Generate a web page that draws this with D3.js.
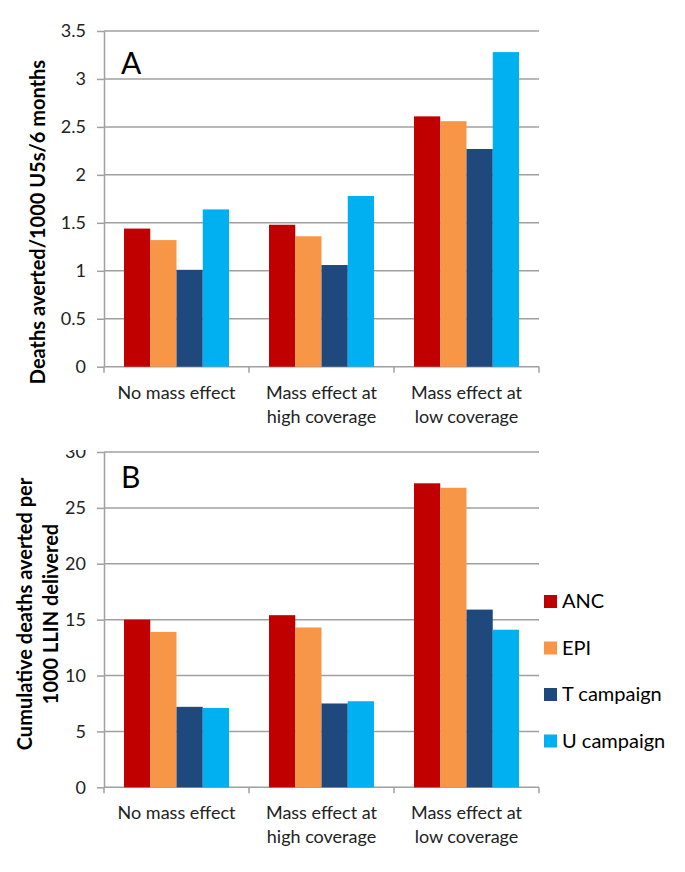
<!DOCTYPE html>
<html>
<head>
<meta charset="utf-8">
<script src="https://cdn.jsdelivr.net/npm/d3@7"></script>
<style>
  body { margin: 0; background: #fff; }
  svg { font-family: Lato, "Open Sans", sans-serif; }
</style>
</head>
<body>
<svg id="chart" width="685" height="872"></svg>
<script>
// categories and series
const categories = ["No mass effect", "Mass effect at high coverage", "Mass effect at low coverage"];
const categoryLines = [["No mass effect"], ["Mass effect at", "high coverage"], ["Mass effect at", "low coverage"]];
const seriesNames = ["ANC", "EPI", "T campaign", "U campaign"];
const seriesColors = ["#C00000", "#F79646", "#1F497D", "#00B0F0"];

// panel A: deaths averted / 1000 U5s / 6 months
const ancA = [1.44, 1.48, 2.61];
const epiA = [1.32, 1.36, 2.56];
const tCampA = [1.01, 1.06, 2.27];
const uCampA = [1.64, 1.78, 3.28];
const ticksA = [0, 0.5, 1, 1.5, 2, 2.5, 3, 3.5];

// panel B: cumulative deaths averted per 1000 LLIN delivered
const ancB = [15.0, 15.4, 27.2];
const epiB = [13.9, 14.3, 26.8];
const tCampB = [7.2, 7.5, 15.9];
const uCampB = [7.1, 7.7, 14.1];
const ticksB = [0, 5, 10, 15, 20, 25, 30];

const svg = d3.select('#chart');
const left = 104, right = 539;

// clip for the top of panel B (its "30" label is cut in the figure)
svg.append('defs').append('clipPath').attr('id', 'clipB')
  .append('rect').attr('x', -300).attr('y', 450).attr('width', 1000).attr('height', 422);

let drawPanel = (cfg) => {
  const g = svg.append('g');
  const y = d3.scaleLinear().domain([0, cfg.max]).range([cfg.base, cfg.top]);
  const x0 = d3.scaleBand().domain(categories).range([left, right]);
  const bw = x0.bandwidth();
  const x1 = d3.scaleBand().domain(seriesNames).range([20, bw - 20]);

  // gridlines
  g.selectAll('.grid')
    .data(cfg.ticks)
    .enter()
    .append('line')
    .attr('x1', left).attr('x2', right)
    .attr('y1', d => y(d)).attr('y2', d => y(d))
    .style('stroke', '#a0a0a0')
    .style('stroke-width', 1.5);

  // y axis
  const yAxis = g.append('g')
    .attr('transform', `translate(${left},0)`)
    .call(d3.axisLeft(y).tickValues(cfg.ticks).tickSize(7).tickSizeOuter(0).tickPadding(11).tickFormat(d => String(d)));
  yAxis.select('.domain').style('stroke', '#a0a0a0').style('stroke-width', 1.5);
  yAxis.selectAll('.tick line').style('stroke', '#a0a0a0').style('stroke-width', 1.5);
  yAxis.selectAll('.tick text')
    .style('font-family', 'Lato, sans-serif')
    .style('font-size', '18px')
    .style('fill', '#222');
  if (cfg.clip) yAxis.attr('clip-path', `url(#${cfg.clip})`);

  // x ticks at band edges
  const edges = categories.map(c => x0(c)).concat([right]);
  g.selectAll('.xtick')
    .data(edges)
    .enter()
    .append('line')
    .attr('x1', d => d).attr('x2', d => d)
    .attr('y1', cfg.base).attr('y2', cfg.base + 6)
    .style('stroke', '#a0a0a0')
    .style('stroke-width', 1.5);

  // bars
  const rows = cfg.series.map((vals, si) => vals.map((v, ci) => ({ s: seriesNames[si], c: categories[ci], v: v, color: seriesColors[si] })));
  g.selectAll('.bar')
    .data(rows.flat())
    .enter()
    .append('rect')
    .attr('class', 'bar')
    .attr('x', d => x0(d.c) + x1(d.s))
    .attr('y', d => y(d.v))
    .attr('width', x1.bandwidth())
    .attr('height', d => y(0) - y(d.v))
    .style('fill', d => d.color);

  // category labels
  categories.forEach((c, i) => {
    const t = g.append('text')
      .attr('x', x0(c) + bw / 2)
      .attr('y', cfg.base + 32)
      .attr('text-anchor', 'middle')
      .style('font-size', '18px')
      .style('fill', '#222');
    categoryLines[i].forEach((line, li) => {
      t.append('tspan').attr('x', x0(c) + bw / 2).attr('dy', li === 0 ? 0 : 24).text(line);
    });
  });

  // panel letter
  g.append('text')
    .attr('x', 121).attr('y', cfg.letterY)
    .style('font-size', '30px')
    .style('fill', '#000')
    .text(cfg.letter);

  // y title
  const title = g.append('text')
    .attr('transform', `translate(${cfg.titleX},${cfg.titleY}) rotate(-90)`)
    .attr('text-anchor', 'middle')
    .style('font-size', '20px')
    .style('font-weight', 'bold')
    .style('fill', '#000');
  cfg.title.forEach((line, li) => {
    title.append('tspan').attr('x', 0).attr('dy', li === 0 ? 0 : 26).text(line);
  });
};

drawPanel({
  series: [ancA, epiA, tCampA, uCampA], ticks: ticksA, max: 3.5,
  base: 366.7, top: 31, letter: 'A', letterY: 74,
  title: ['Deaths averted/1000 U5s/6 months'], titleX: 45, titleY: 222
});

drawPanel({
  series: [ancB, epiB, tCampB, uCampB], ticks: ticksB, max: 30,
  base: 787.3, top: 452, letter: 'B', letterY: 488, clip: 'clipB',
  title: ['Cumulative deaths averted per', '1000 LLIN delivered'], titleX: 32, titleY: 614
});

// legend
const legend = svg.append('g').attr('transform', 'translate(544,595)');
legend.selectAll('rect')
  .data(seriesNames)
  .enter()
  .append('rect')
  .attr('x', 0)
  .attr('y', (d, i) => i * 46.5)
  .attr('width', 13).attr('height', 13)
  .style('fill', (d, i) => seriesColors[i]);
legend.selectAll('text')
  .data(seriesNames)
  .enter()
  .append('text')
  .attr('x', 18)
  .attr('y', (d, i) => i * 46.5 + 13)
  .style('font-size', '20px')
  .style('fill', '#000')
  .text(d => d);
</script>
</body>
</html>
